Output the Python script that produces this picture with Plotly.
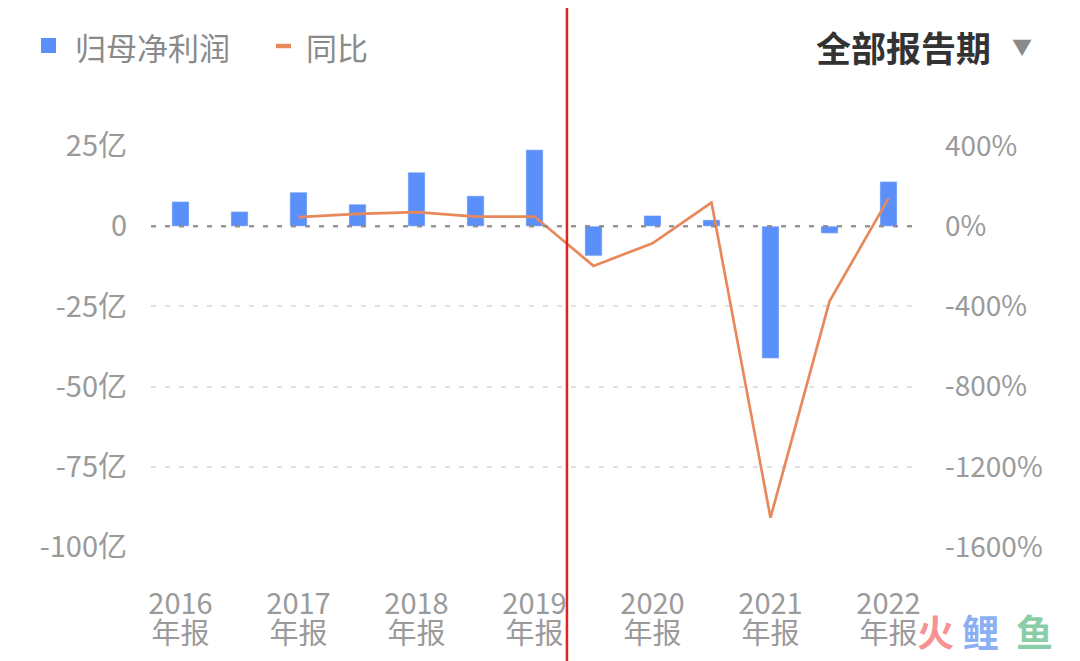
import plotly.graph_objects as go

# ---- data ----
periods = ["2016年报", "2017中报", "2017年报", "2018中报", "2018年报", "2019中报", "2019年报",
           "2020中报", "2020年报", "2021中报", "2021年报", "2022中报", "2022年报"]
net_profit = [7.66, 4.55, 10.6, 6.85, 16.8, 9.44, 23.8, -9.25, 3.3, 1.96, -41.2, -2.2, 13.9]  # 亿
yoy = [None, None, 45, 61, 70, 48, 48, -198, -85, 118, -1454, -375, 139]  # %

x_tickvals = ["2016年报", "2017年报", "2018年报", "2019年报", "2020年报", "2021年报", "2022年报"]
x_year_text = ["2016", "2017", "2018", "2019", "2020", "2021", "2022"]
x_kind_text = ["年报", "年报", "年报", "年报", "年报", "年报", "年报"]
left_tickvals = [-100, -75, -50, -25, 0, 25]
left_ticktext = ["-100亿", "-75亿", "-50亿", "-25亿", "0", "25亿"]
right_tickvals = [-1600, -1200, -800, -400, 0, 400]
right_ticktext = ["-1600%", "-1200%", "-800%", "-400%", "0%", "400%"]
legend_names = ["归母净利润", "同比"]

FONT = "Noto Sans CJK SC, Noto Sans, sans-serif"
BLUE = "#5B8FF9"
ORANGE = "#E8895B"
GREY = "#9a9a9a"

OFF = 8                      # page body margin
FW, FH = 1080 - OFF, 661 - OFF
L, T, W, H = 151 - OFF, 146 - OFF, 767, 401


def px2x(px):                # page pixel -> paper x
    return (px - OFF - L) / W


def py2y(py):                # page pixel -> paper y
    return 1 - (py - OFF - T) / H


fig = go.Figure()
fig.add_trace(go.Bar(x=periods, y=net_profit, name=legend_names[0], marker_color=BLUE,
                     width=0.29, xaxis="x", yaxis="y", showlegend=False))
fig.add_trace(go.Scatter(x=periods, y=yoy, name=legend_names[1], mode="lines",
                         line=dict(color=ORANGE, width=2.7), xaxis="x2", yaxis="y2",
                         showlegend=False))

# dashed zero line
fig.add_shape(type="line", xref="paper", yref="y", x0=0, x1=1, y0=0, y1=0,
              line=dict(color="rgba(135,135,135,0.85)", width=2.5, dash="5px,9px"),
              layer="above")
# hand-drawn red separator line
fig.add_shape(type="line", xref="x", yref="paper", x0=6.55, x1=6.55, y0=-0.3, y1=1.4,
              line=dict(color="#E0231C", width=2.5), layer="above")

axis_common = dict(type="category", categoryorder="array", categoryarray=periods,
                   tickvals=x_tickvals, showgrid=False, zeroline=False, showline=False,
                   ticks="", automargin=False, range=[-0.5, len(periods) - 0.5])

fig.update_layout(
    width=FW, height=FH,
    margin=dict(l=L, r=FW - L - W, t=T, b=FH - T - H, autoexpand=False),
    paper_bgcolor="white", plot_bgcolor="white",
    font=dict(family=FONT, color=GREY),
    showlegend=False,
    xaxis=dict(**axis_common, ticktext=x_year_text, tickfont=dict(size=29, color=GREY),
               ticklabelstandoff=37),
    xaxis2=dict(**axis_common, ticktext=x_kind_text, tickfont=dict(size=29, color=GREY),
                ticklabelstandoff=67, overlaying="x", side="bottom", matches="x"),
    yaxis=dict(range=[-100, 25], tickvals=left_tickvals, ticktext=left_ticktext,
               showgrid=True, gridcolor="#e0e0e0", gridwidth=1.5, griddash="5px,9px",
               zeroline=False, showline=False, ticks="", automargin=False,
               tickfont=dict(size=29, color=GREY), ticklabelstandoff=23),
    yaxis2=dict(range=[-1600, 400], tickvals=right_tickvals, ticktext=right_ticktext,
                overlaying="y", side="right", showgrid=False, zeroline=False,
                showline=False, ticks="", automargin=False,
                tickfont=dict(size=28, color=GREY), ticklabelstandoff=26),
)

# custom legend
fig.add_shape(type="rect", xref="paper", yref="paper", x0=px2x(41), x1=px2x(56),
              y0=py2y(53), y1=py2y(38), fillcolor=BLUE, line=dict(width=0))
fig.add_annotation(text=legend_names[0], xref="paper", yref="paper", x=px2x(73), y=py2y(46),
                   xanchor="left", yanchor="middle", showarrow=False,
                   font=dict(size=31, color="#8a8a8a", family=FONT))
fig.add_shape(type="line", xref="paper", yref="paper", x0=px2x(276), x1=px2x(291),
              y0=py2y(46), y1=py2y(46), line=dict(color=ORANGE, width=4.5))
fig.add_annotation(text=legend_names[1], xref="paper", yref="paper", x=px2x(304), y=py2y(46),
                   xanchor="left", yanchor="middle", showarrow=False,
                   font=dict(size=31, color="#8a8a8a", family=FONT))

# top-right selector
fig.add_annotation(text="全部报告期", xref="paper", yref="paper", x=px2x(993), y=py2y(46),
                   xanchor="right", yanchor="middle", showarrow=False,
                   font=dict(size=35, color="#333333", family=FONT, weight=600))
fig.add_annotation(text="▼", xref="paper", yref="paper", x=px2x(1022), y=py2y(46),
                   xanchor="center", yanchor="middle", showarrow=False,
                   font=dict(size=20, color="#8a8a8a", family=FONT))

# watermark
for ch, col, px in [("火", "rgba(245,110,110,0.75)", 935),
                    ("鲤", "rgba(100,150,240,0.75)", 980),
                    ("鱼", "rgba(100,190,140,0.75)", 1034)]:
    fig.add_annotation(text=ch, xref="paper", yref="paper", x=px2x(px), y=py2y(631),
                       xanchor="center", yanchor="middle", showarrow=False,
                       font=dict(size=37, color=col, family=FONT, weight="bold"))

fig.write_html("out.html")
